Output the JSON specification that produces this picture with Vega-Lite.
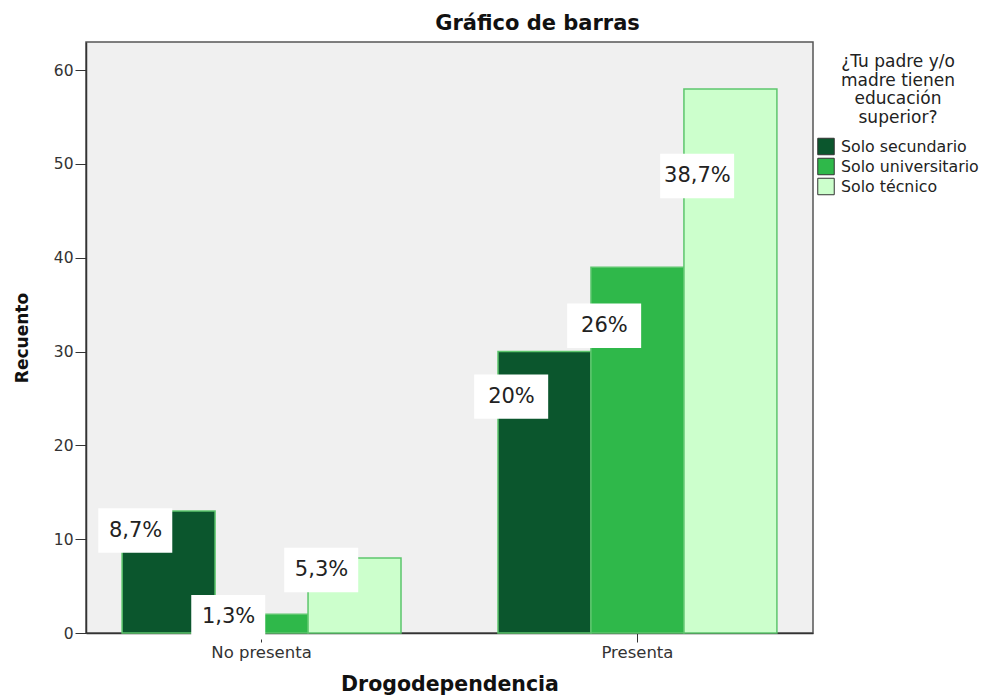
{
  "$schema": "https://vega.github.io/schema/vega-lite/v6.json",
  "autosize": {"type": "none"},
  "padding": {"left": 86, "top": 42, "right": 177, "bottom": 64},
  "width": 727,
  "height": 591,
  "background": "white",
  "config": {
    "font": "DejaVu Sans",
    "view": {"fill": "#f0f0f0", "stroke": "#555555", "strokeWidth": 1.5}
  },
  "title": {
    "text": "Gráfico de barras",
    "fontSize": 21,
    "fontWeight": "bold",
    "color": "#111111",
    "anchor": "middle",
    "dx": 88,
    "offset": 8
  },
  "data": {
    "values": [
      {"Drogodependencia": "No presenta", "grupo": "Solo secundario", "count": 13, "pct": "8,7%"},
      {"Drogodependencia": "No presenta", "grupo": "Solo universitario", "count": 2, "pct": "1,3%"},
      {"Drogodependencia": "No presenta", "grupo": "Solo técnico", "count": 8, "pct": "5,3%"},
      {"Drogodependencia": "Presenta", "grupo": "Solo secundario", "count": 30, "pct": "20%"},
      {"Drogodependencia": "Presenta", "grupo": "Solo universitario", "count": 39, "pct": "26%"},
      {"Drogodependencia": "Presenta", "grupo": "Solo técnico", "count": 58, "pct": "38,7%"}
    ]
  },
  "encoding": {
    "x": {
      "field": "Drogodependencia",
      "type": "nominal",
      "sort": ["No presenta", "Presenta"],
      "scale": {"paddingInner": 0.258, "paddingOuter": 0.096},
      "axis": {
        "title": "Drogodependencia",
        "titleFontSize": 20.5,
        "titleFontWeight": "bold",
        "titleColor": "#111111",
        "titlePadding": 14,
        "labelAngle": 0,
        "labelFontSize": 16.5,
        "labelColor": "#333333",
        "labelPadding": 2,
        "tickSize": 9,
        "tickColor": "#333333",
        "domainColor": "#333333",
        "domainWidth": 1.5
      }
    },
    "xOffset": {
      "field": "grupo",
      "type": "nominal",
      "sort": ["Solo secundario", "Solo universitario", "Solo técnico"],
      "scale": {"paddingInner": 0, "paddingOuter": 0}
    }
  },
  "layer": [
    {
      "mark": {"type": "bar", "stroke": "#5dc66d", "strokeWidth": 1.5},
      "encoding": {
        "y": {
          "field": "count",
          "type": "quantitative",
          "scale": {"domain": [0, 63], "nice": false},
          "axis": {
            "title": "Recuento",
            "titleFontSize": 17,
            "titleFontWeight": "bold",
            "titleColor": "#111111",
            "titlePadding": 22,
            "values": [0, 10, 20, 30, 40, 50, 60],
            "grid": false,
            "labelFontSize": 15.5,
            "labelColor": "#333333",
            "labelPadding": 2,
            "tickSize": 11,
            "tickColor": "#333333",
            "domainColor": "#333333",
            "domainWidth": 1.5
          }
        },
        "color": {
          "field": "grupo",
          "type": "nominal",
          "scale": {
            "domain": ["Solo secundario", "Solo universitario", "Solo técnico"],
            "range": ["#0b562d", "#2fb84a", "#ccffcc"]
          },
          "legend": {
            "orient": "none",
            "legendX": 731,
            "legendY": 12,
            "title": ["¿Tu padre y/o", "madre tienen", "educación", "superior?"],
            "titleFontSize": 17,
            "titleFontWeight": "normal",
            "titleColor": "#222222",
            "titleLineHeight": 18.5,
            "titleAnchor": "middle",
            "titleAlign": "center",
            "titlePadding": 11,
            "labelFontSize": 15.8,
            "labelColor": "#222222",
            "symbolType": "square",
            "symbolSize": 272,
            "symbolStrokeColor": "#333333",
            "symbolStrokeWidth": 1,
            "symbolOffset": 0,
            "labelOffset": 6,
            "rowPadding": -2.5
          }
        }
      }
    },
    {
      "transform": [{"calculate": "datum.count * 0.84", "as": "labelY"}],
      "mark": {
        "type": "point",
        "filled": true,
        "color": "white",
        "opacity": 1,
        "strokeWidth": 0,
        "shape": "M-1.9,-0.6H0.1V0.6H-1.9Z",
        "size": 5476
      },
      "encoding": {
        "y": {"field": "labelY", "type": "quantitative"}
      }
    },
    {
      "transform": [{"calculate": "datum.count * 0.84", "as": "labelY"}],
      "mark": {
        "type": "text",
        "fontSize": 21,
        "color": "#222222",
        "dx": -33,
        "baseline": "middle",
        "align": "center"
      },
      "encoding": {
        "y": {"field": "labelY", "type": "quantitative"},
        "text": {"field": "pct", "type": "nominal"}
      }
    }
  ]
}
